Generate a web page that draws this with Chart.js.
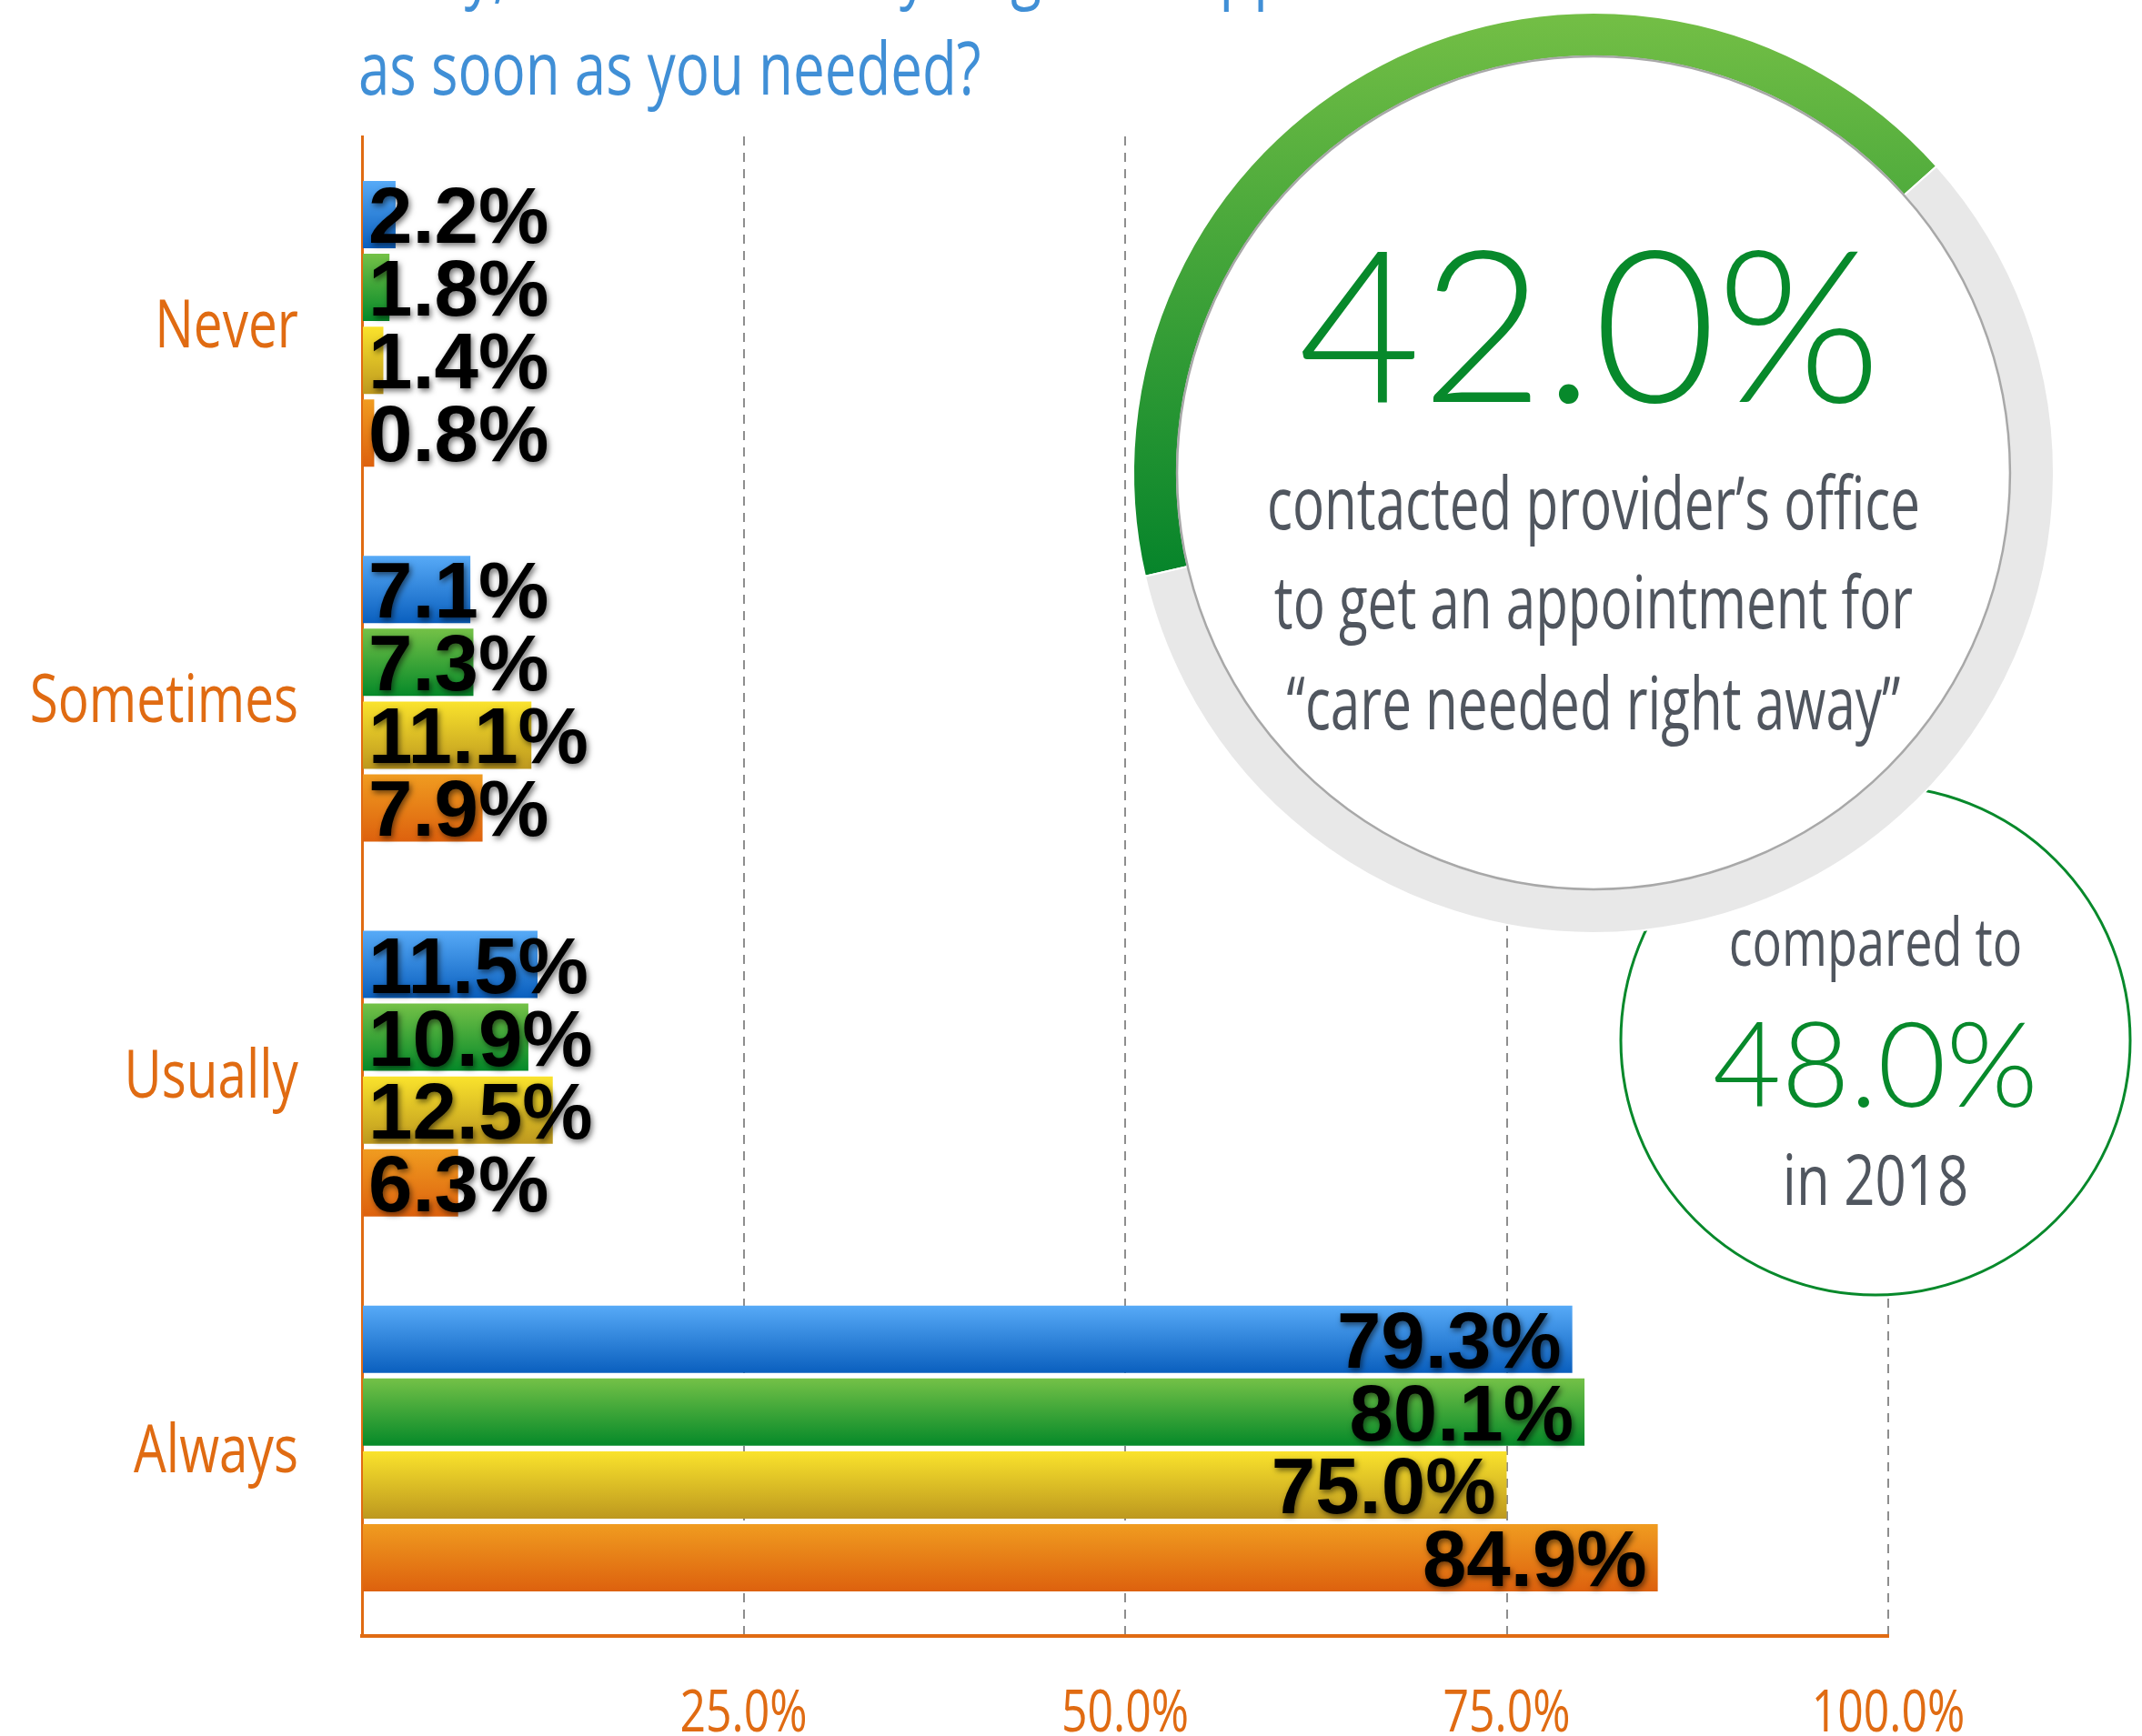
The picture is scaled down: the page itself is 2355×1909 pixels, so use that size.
<!DOCTYPE html>
<html>
<head>
<meta charset="utf-8">
<script src="https://cdn.jsdelivr.net/npm/chart.js"></script>
<style>
  html, body { margin: 0; padding: 0; background: #fff; }
  #wrap { position: relative; width: 2355px; height: 1909px; overflow: hidden; }
  #barChart { position: absolute; left: 0; top: 0; }
  #ringChart { position: absolute; left: 1232px; top: 0; }
</style>
</head>
<body>
<div id="wrap">
  <canvas id="barChart" width="2355" height="1909"></canvas>
  <canvas id="ringChart" width="1040" height="1040"></canvas>
</div>
<script>
// data
const categories = ["Never", "Sometimes", "Usually", "Always"];
const seriesNames = ["Series 1", "Series 2", "Series 3", "Series 4"];
const blueValues = [2.2, 7.1, 11.5, 79.3];
const greenValues = [1.8, 7.3, 10.9, 80.1];
const yellowValues = [1.4, 11.1, 12.5, 75.0];
const orangeValues = [0.8, 7.9, 6.3, 84.9];
const xMin = 0, xMax = 100, xStep = 25;
const ringLabels = ["Contacted office", "Did not"];
const ringValues = [42.0, 58.0];
const comparedValue = 48.0;
const comparedYear = "2018";
const titleLines = ["away, how often did you get an appointment", "as soon as you needed?"];
const ringText = ["contacted provider’s office", "to get an appointment for", "“care needed right away”"];

const BLUE = "#408fd6", ORANGE = "#e06b12", GRAY = "#50565f", GREEN = "#07892b";
const COND = "'Open Sans', 'Noto Sans', sans-serif";
const CAT_PCT = 0.777, BAR_PCT = 0.925;

// squeeze a normal font to look like the condensed face in the original
const probe = document.createElement("canvas").getContext("2d");
probe.font = "500 80px " + COND;
const SX = 718 / probe.measureText(ringText[0]).width;

function condText(ctx, txt, x, y, size, color, align, stretch) {
  ctx.save();
  ctx.font = "500 " + size + "px " + COND;
  ctx.fillStyle = color;
  ctx.textBaseline = "alphabetic";
  ctx.textAlign = align || "left";
  ctx.translate(x, y);
  ctx.scale(SX * (stretch || 1), 1);
  ctx.fillText(txt, 0, 0);
  ctx.restore();
}

const barColors = [
  ["#57aaf7", "#0a5fbe"],
  ["#74c147", "#058929"],
  ["#fae32c", "#bd981f"],
  ["#f09c20", "#dd610e"]
];

// vertical gradient for every bar, placed from the category scale
function barFill(c) {
  const pair = barColors[c.datasetIndex];
  const ys = c.chart.scales.y;
  if (!ys || c.dataIndex == null) return pair[1];
  const catW = ys.getPixelForValue(1) - ys.getPixelForValue(0);
  const slot = catW * CAT_PCT / seriesNames.length;
  const center = ys.getPixelForValue(c.dataIndex) + (c.datasetIndex - 1.5) * slot;
  const half = slot * BAR_PCT / 2;
  if (!isFinite(center) || !isFinite(half) || half <= 0) return pair[1];
  const g = c.chart.ctx.createLinearGradient(0, center - half, 0, center + half);
  g.addColorStop(0, pair[0]);
  g.addColorStop(1, pair[1]);
  return g;
}

const barLabels = {
  id: "barLabels",
  afterDatasetsDraw(chart) {
    const ctx = chart.ctx;
    ctx.save();
    ctx.font = "bold 87px 'Liberation Sans', Arial, sans-serif";
    ctx.textBaseline = "alphabetic";
    ctx.fillStyle = "#000";
    ctx.shadowColor = "rgba(0,0,0,0.55)";
    ctx.shadowBlur = 6;
    ctx.shadowOffsetX = 2;
    ctx.shadowOffsetY = 3;
    chart.data.datasets.forEach((ds, di) => {
      chart.getDatasetMeta(di).data.forEach((bar, i) => {
        const v = ds.data[i];
        const txt = v.toFixed(1) + "%";
        if (v > 50) {
          ctx.textAlign = "right";
          ctx.fillText(txt, bar.x - 12, bar.y + 31);
        } else {
          ctx.textAlign = "left";
          ctx.fillText(txt, bar.base + 6, bar.y + 31);
        }
      });
    });
    ctx.restore();
  }
};

const axisText = {
  id: "axisText",
  afterDraw(chart) {
    const ctx = chart.ctx;
    const xs = chart.scales.x, ys = chart.scales.y;
    const area = chart.chartArea;
    xs.ticks.forEach((t, i) => {
      if (t.value === xMin) return;
      condText(ctx, t.value.toFixed(1) + "%", xs.getPixelForTick(i), area.bottom + 105, 64, ORANGE, "center", 1.07);
    });
    ys.getLabels().forEach((lab, i) => {
      condText(ctx, lab, area.left - 70, ys.getPixelForValue(i) + 26, 74, ORANGE, "right", 1.05);
    });
    titleLines.forEach((t, i) => condText(ctx, t, 394, -6 + i * 110, 80, BLUE, "left", 1.06));

    // comparison circle
    const cx = 2062, cy = 1144, r = 280;
    ctx.save();
    ctx.beginPath();
    ctx.arc(cx, cy, r, 0, Math.PI * 2);
    ctx.fillStyle = "#fff";
    ctx.fill();
    ctx.lineWidth = 3;
    ctx.strokeStyle = GREEN;
    ctx.stroke();
    ctx.restore();
    condText(ctx, "compared to", cx, cy - 82, 74, GRAY, "center");
    ctx.save();
    ctx.font = "300 130px Lato, 'Open Sans', sans-serif";
    ctx.fillStyle = GREEN;
    ctx.textAlign = "center";
    ctx.textBaseline = "alphabetic";
    ctx.fillText(comparedValue.toFixed(1) + "%", cx, cy + 73);
    ctx.restore();
    condText(ctx, "in " + comparedYear, cx, cy + 181, 76, GRAY, "center", 1.08);
  }
};

new Chart(document.getElementById("barChart"), {
  type: "bar",
  data: {
    labels: categories,
    datasets: [blueValues, greenValues, yellowValues, orangeValues].map((vals, i) => ({
      label: seriesNames[i],
      data: vals,
      backgroundColor: barFill,
      borderWidth: 0,
      categoryPercentage: CAT_PCT,
      barPercentage: BAR_PCT
    }))
  },
  options: {
    indexAxis: "y",
    responsive: false,
    animation: false,
    events: [],
    layout: { padding: { left: 398, right: 279, top: 150, bottom: 110 } },
    plugins: { legend: { display: false }, tooltip: { enabled: false } },
    scales: {
      x: {
        min: xMin,
        max: xMax,
        ticks: { stepSize: xStep, display: false },
        grid: {
          color: c => (c.tick && c.tick.value === xMin) ? "rgba(0,0,0,0)" : "#8e8e8e",
          lineWidth: 2,
          drawTicks: false
        },
        border: { color: ORANGE, width: 4, dash: [10, 8] }
      },
      y: {
        ticks: { display: false },
        grid: { display: false, drawTicks: false },
        border: { color: ORANGE, width: 3 }
      }
    }
  },
  plugins: [barLabels, axisText]
});

// big ring
function ringFill(c) {
  if (c.dataIndex !== 0) return "#e8e8e8";
  const area = c.chart.chartArea;
  if (!area) return GREEN;
  const g = c.chart.ctx.createLinearGradient(0, area.top, 0, area.top + area.height * 0.62);
  g.addColorStop(0, "#76c046");
  g.addColorStop(1, "#04832a");
  return g;
}

const ringDecor = {
  id: "ringDecor",
  beforeDatasetsDraw(chart) {
    const arc = chart.getDatasetMeta(0).data[0];
    const ctx = chart.ctx;
    ctx.save();
    ctx.beginPath();
    ctx.arc(arc.x, arc.y, arc.outerRadius, 0, Math.PI * 2);
    ctx.fillStyle = "#fff";
    ctx.fill();
    ctx.restore();
  },
  afterDatasetsDraw(chart) {
    const arc = chart.getDatasetMeta(0).data[0];
    const ctx = chart.ctx;
    ctx.save();
    ctx.beginPath();
    ctx.arc(arc.x, arc.y, arc.innerRadius, 0, Math.PI * 2);
    ctx.strokeStyle = "#a8a8a8";
    ctx.lineWidth = 2.5;
    ctx.stroke();
    ctx.font = "300 233px Lato, 'Open Sans', sans-serif";
    ctx.fillStyle = GREEN;
    ctx.textAlign = "center";
    ctx.textBaseline = "alphabetic";
    ctx.fillText(ringValues[0].toFixed(1) + "%", arc.x - 4, arc.y - 78);
    ctx.restore();
    [62, 171, 282].forEach((dy, i) => condText(ctx, ringText[i], arc.x, arc.y + dy, 80, GRAY, "center"));
  }
};

new Chart(document.getElementById("ringChart"), {
  type: "doughnut",
  data: {
    labels: ringLabels,
    datasets: [{
      data: ringValues,
      backgroundColor: ringFill,
      borderColor: "#fff",
      borderWidth: 2,
      offset: 0,
      hoverOffset: 0
    }]
  },
  options: {
    responsive: false,
    animation: false,
    events: [],
    rotation: 257,
    radius: 506,
    cutout: "90.5%",
    plugins: { legend: { display: false }, tooltip: { enabled: false } }
  },
  plugins: [ringDecor]
});
</script>
</body>
</html>
